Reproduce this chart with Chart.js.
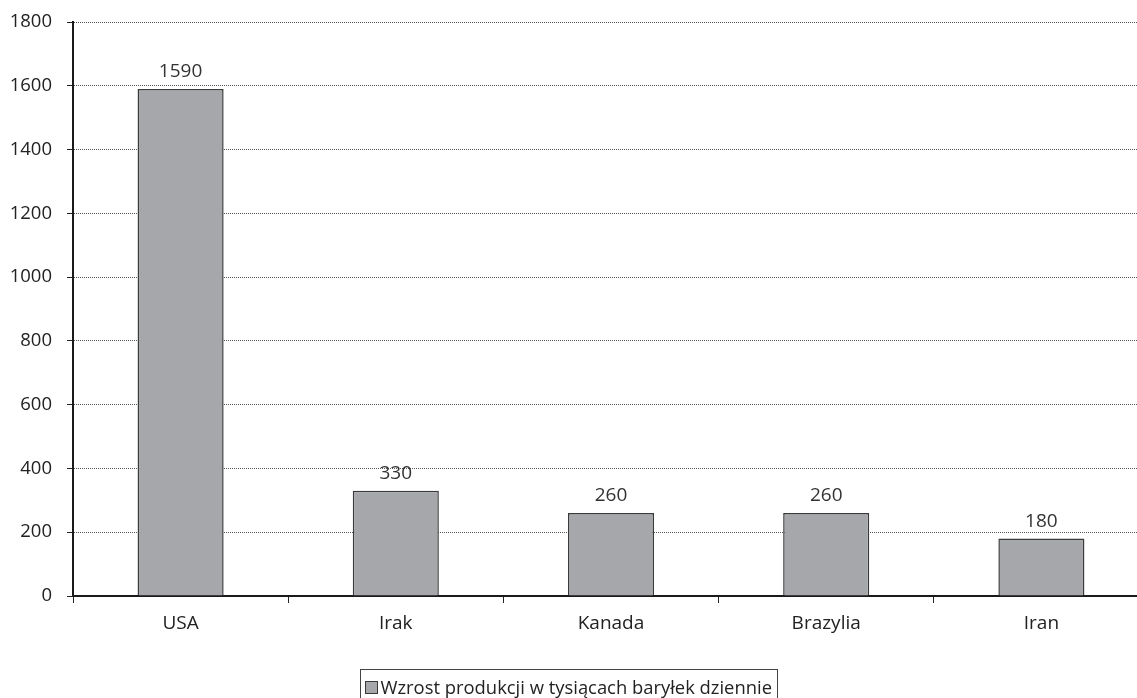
<!DOCTYPE html>
<html>
<head>
<meta charset="utf-8">
<script src="https://cdn.jsdelivr.net/npm/chart.js@4/dist/chart.umd.min.js"></script>
<style>
  html, body { margin: 0; padding: 0; background: #fff; overflow: hidden; }
  /* plot runs a little past the right edge of the page, as in the original */
  #wrap { width: 1149px; height: 698px; position: relative; }
</style>
</head>
<body>
<div id="wrap"><canvas id="bars"></canvas></div>
<script>
var categories = ["USA", "Irak", "Kanada", "Brazylia", "Iran"];
var values = [1590, 330, 260, 260, 180];
var seriesLabel = "Wzrost produkcji w tysiącach baryłek dziennie";
var yTicks = { min: 0, max: 1800, step: 200 };

var FONT = "'Open Sans', 'Noto Sans', sans-serif";
var barFill = "#a6a7aa";
var barEdge = "#3a3a3a";
var PAGE_W = 1137;

// numbers over each bar
var valueLabels = {
  id: "valueLabels",
  afterDatasetsDraw: function(chart){
    var ctx = chart.ctx;
    var meta = chart.getDatasetMeta(0);
    ctx.save();
    ctx.font = "19px " + FONT;
    ctx.fillStyle = "#333";
    ctx.textAlign = "center";
    ctx.textBaseline = "alphabetic";
    meta.data.forEach(function(bar, i){
      ctx.fillText(String(chart.data.datasets[0].data[i]), bar.x, bar.y - 12);
    });
    ctx.restore();
  }
};

// boxed legend under the chart, centred on the page
var boxLegend = {
  id: "boxLegend",
  afterDraw: function(chart){
    var ctx = chart.ctx;
    var ds = chart.data.datasets[0];
    ctx.save();
    ctx.font = "18.4px " + FONT;
    var tw = ctx.measureText(ds.label).width;
    var w = Math.round(tw + 26);
    var x0 = Math.round(PAGE_W / 2 - w / 2) + 0.5;
    var y0 = 669.5;
    ctx.strokeStyle = "#444";
    ctx.lineWidth = 1;
    ctx.strokeRect(x0, y0, w, 40);
    ctx.fillStyle = barFill;
    ctx.fillRect(x0 + 5, y0 + 12, 12, 12);
    ctx.strokeStyle = barEdge;
    ctx.strokeRect(x0 + 5, y0 + 12, 12, 12);
    ctx.fillStyle = "#222";
    ctx.textBaseline = "alphabetic";
    ctx.fillText(ds.label, x0 + 20, y0 + 24);
    ctx.restore();
  }
};

var canvas = document.getElementById("bars");
new Chart(canvas.getContext("2d"), {
  type: "bar",
  data: {
    labels: categories,
    datasets: [{
      label: seriesLabel,
      data: values,
      backgroundColor: barFill,
      borderColor: barEdge,
      borderWidth: 1.5,
      categoryPercentage: 1,
      barPercentage: 0.4
    }]
  },
  options: {
    responsive: true,
    maintainAspectRatio: false,
    animation: false,
    layout: { padding: { top: 22, right: 0, left: 0, bottom: 0 } },
    plugins: {
      legend: { display: false },
      tooltip: { enabled: false }
    },
    scales: {
      x: {
        offset: true,
        grid: {
          offset: true,
          drawOnChartArea: false,
          tickLength: 7,
          tickColor: "#222",
          tickWidth: 1
        },
        border: { color: "#1a1a1a", width: 2 },
        ticks: { color: "#222", font: { family: FONT, size: 19 }, padding: 9 },
        afterFit: function(s){ s.height = 102; }
      },
      y: {
        min: yTicks.min,
        max: yTicks.max,
        ticks: {
          stepSize: yTicks.step,
          color: "#222",
          font: { family: FONT, size: 18.5 },
          padding: 15,
          callback: function(v){ return String(v); }
        },
        grid: {
          color: "#555",
          lineWidth: 1,
          tickLength: 6,
          tickColor: "#222",
          tickBorderDash: []
        },
        border: { color: "#1a1a1a", width: 2, dash: [1, 1] },
        afterFit: function(s){
          s.width = 73;
          // tick padding would otherwise push the plot top down
          s.paddingTop = 0;
          s.paddingBottom = 0;
        }
      }
    }
  },
  plugins: [valueLabels, boxLegend]
});
</script>
</body>
</html>
